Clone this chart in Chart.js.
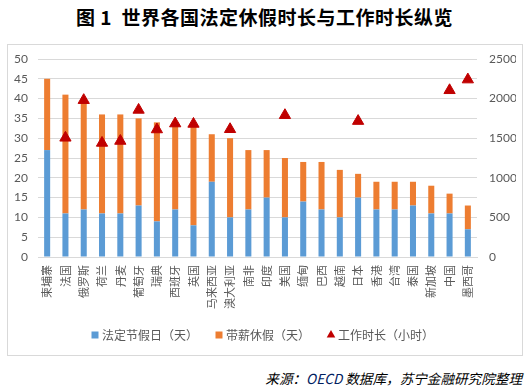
<!DOCTYPE html>
<html>
<head>
<meta charset="utf-8">
<script src="https://cdn.jsdelivr.net/npm/chart.js@4.4.0/dist/chart.umd.min.js"></script>
<style>
  body { margin: 0; background: #fff; width: 529px; height: 387px; position: relative; overflow: hidden; }
  #title { position: absolute; left: 0; top: 3px; width: 529px; text-align: center; font: bold 19px "Noto Sans CJK SC"; color: #000; letter-spacing: 0.5px; }
  #box { position: absolute; left: 7px; top: 44px; width: 514px; height: 310px; border: 1px solid #d9d9d9; }
  #source { position: absolute; right: 7px; top: 368px; font: italic 13.6px "Noto Sans CJK SC"; color: #000; }
  #source span { color: #002060; }
</style>
</head>
<body>
<div id="title">图 1&nbsp; 世界各国法定休假时长与工作时长纵览</div>
<div id="box"><canvas id="chart" width="514" height="310"></canvas></div>
<div id="source">来源：<span>OECD</span> 数据库，苏宁金融研究院整理</div>
<script>
// 国家
const countries = ["柬埔寨", "法国", "俄罗斯", "荷兰", "丹麦", "葡萄牙", "瑞典", "西班牙", "英国", "马来西亚", "澳大利亚", "南非",
  "印度", "美国", "缅甸", "巴西", "越南", "日本", "香港", "台湾", "泰国", "新加坡", "中国", "墨西哥"];
// 法定节假日（天）
const holidays = [27, 11, 12, 11, 11, 13, 9, 12, 8, 19, 10, 12, 15, 10, 14, 12, 10, 15, 12, 12, 13, 11, 11, 7];
// 带薪休假（天）
const paidLeave = [18, 30, 28, 25, 25, 22, 25, 22, 25, 12, 20, 15, 12, 15, 10, 12, 12, 6, 7, 7, 6, 7, 5, 6];
// 工作时长（小时），没有数据的为 null
const workHours = [null, 1505, 1980, 1440, 1465, 1857, 1610, 1685, 1680, null, 1613, null,
  null, 1790, null, null, null, 1716, null, null, null, null, 2105, 2240];

const leftTicks = [0, 5, 10, 15, 20, 25, 30, 35, 40, 45, 50];
const rightTicks = [0, 500, 1000, 1500, 2000, 2500];

// lineHeight 调小，免得刻度字把绘图区往下挤
const tickFont = { family: "Lato", size: 12, lineHeight: 0.2 };
const labelColor = "#595959";

new Chart(document.getElementById("chart"), {
  type: "bar",
  data: {
    labels: countries,
    datasets: [
      {
        label: "法定节假日（天）",
        data: holidays,
        backgroundColor: "#5B9BD5",
        yAxisID: "y",
        stack: "s",
        order: 1,
        barPercentage: 0.33,
        categoryPercentage: 1,
      },
      {
        label: "带薪休假（天）",
        data: paidLeave,
        backgroundColor: "#ED7D31",
        yAxisID: "y",
        stack: "s",
        order: 1,
        barPercentage: 0.33,
        categoryPercentage: 1,
      },
      {
        type: "line",
        label: "工作时长（小时）",
        data: workHours,
        yAxisID: "y1",
        showLine: false,
        pointStyle: "triangle",
        pointRadius: 6.5,
        pointHoverRadius: 6.5,
        backgroundColor: "#C00000",
        borderColor: "#C00000",
        borderWidth: 1,
        order: 0,
      },
    ],
  },
  options: {
    responsive: false,
    animation: false,
    layout: { autoPadding: false, padding: { left: 4, right: 6, top: 14, bottom: 4 } },
    plugins: {
      title: { display: false },
      tooltip: { enabled: false },
      legend: {
        position: "bottom",
        labels: {
          usePointStyle: true,
          boxWidth: 2,
          boxHeight: 7,
          padding: 20,
          color: labelColor,
          font: { family: "Noto Sans CJK SC", size: 12 },
          sort: (a, b) => a.datasetIndex - b.datasetIndex,
          generateLabels: (chart) =>
            chart.data.datasets.map((ds, i) => ({
              text: ds.label,
              fillStyle: ds.backgroundColor,
              strokeStyle: ds.backgroundColor,
              lineWidth: 0,
              pointStyle: ds.type === "line" ? "triangle" : "rect",
              fontColor: labelColor,
              datasetIndex: i,
            })),
        },
      },
    },
    scales: {
      x: {
        stacked: true,
        afterFit: (axis) => { axis.height = 52; },
        grid: { display: false, drawTicks: false },
        border: { color: "#d9d9d9" },
        ticks: {
          color: labelColor,
          font: { family: "Noto Sans CJK SC", size: 11 },
          minRotation: 90,
          maxRotation: 90,
          autoSkip: false,
          padding: 8,
        },
      },
      y: {
        stacked: true,
        min: 0,
        max: 50,
        afterBuildTicks: (axis) => { axis.ticks = leftTicks.map((v) => ({ value: v })); },
        afterFit: (axis) => { axis.width = 26; },
        grid: { color: "#d9d9d9", drawTicks: false },
        border: { display: false },
        ticks: { color: labelColor, font: tickFont, padding: 10 },
      },
      y1: {
        position: "right",
        min: 0,
        max: 2500,
        afterBuildTicks: (axis) => { axis.ticks = rightTicks.map((v) => ({ value: v })); },
        afterFit: (axis) => { axis.width = 39; },
        grid: { display: false, drawTicks: false },
        border: { display: false },
        ticks: { color: labelColor, font: tickFont, padding: 12, callback: (v) => String(v) },
      },
    },
  },
});
</script>
</body>
</html>
